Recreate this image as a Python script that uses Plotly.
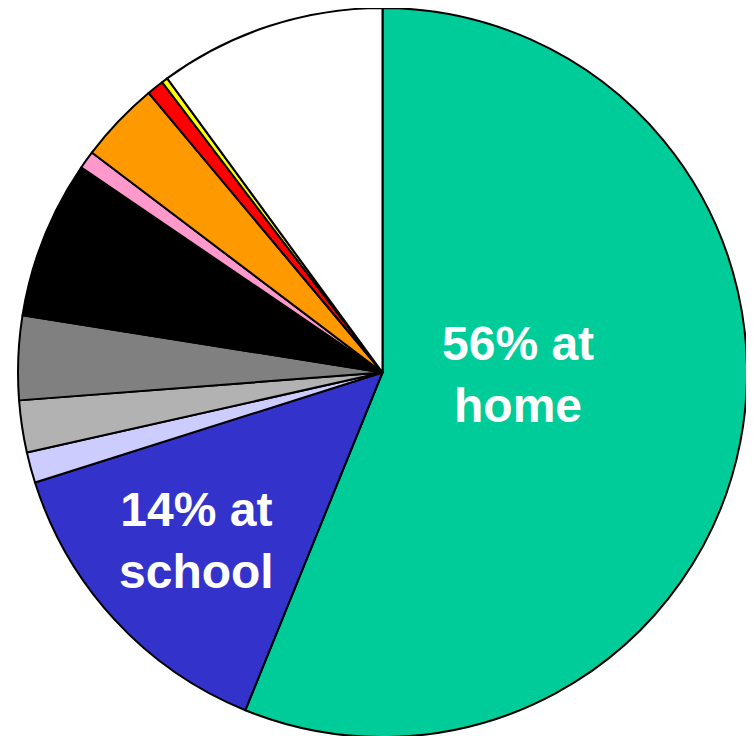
import plotly.graph_objects as go

# slices clockwise from 12 o'clock
categories = [
    "At home", "At school", "Other 1", "Other 2", "Other 3", "Other 4",
    "Other 5", "Other 6", "Other 7", "Other 8", "Other 9",
]
shares = [56.1, 13.97, 1.36, 2.3, 3.72, 7.0, 0.8, 3.6, 0.75, 0.28, 10.05]
colors = [
    "#00CC99", "#3333CC", "#CCCCFF", "#B2B2B2", "#808080", "#000000",
    "#FF99CC", "#FF9900", "#FF0000", "#FFFF00", "#FFFFFF",
]
label_text = ["56% at<br>home", "14% at<br>school"]

fig = go.Figure(
    go.Pie(
        labels=categories,
        values=shares,
        sort=False,
        direction="clockwise",
        rotation=0,
        marker=dict(colors=colors, line=dict(color="black", width=2)),
        textinfo="none",
        hoverinfo="label+percent",
        showlegend=False,
    )
)

font = dict(family="Liberation Sans, Arial, sans-serif", size=48, color="white")
for txt, x, y in zip(label_text, [0.686, 0.245], [0.497, 0.270]):
    fig.add_annotation(
        x=x, y=y, xref="paper", yref="paper", xanchor="center", yanchor="middle",
        text="<b>%s</b>" % txt, showarrow=False, font=font,
    )

fig.update_layout(
    width=754,
    height=736,
    margin=dict(l=10, r=15, t=0, b=7),
    paper_bgcolor="white",
    plot_bgcolor="white",
)
fig.write_html("out.html")
